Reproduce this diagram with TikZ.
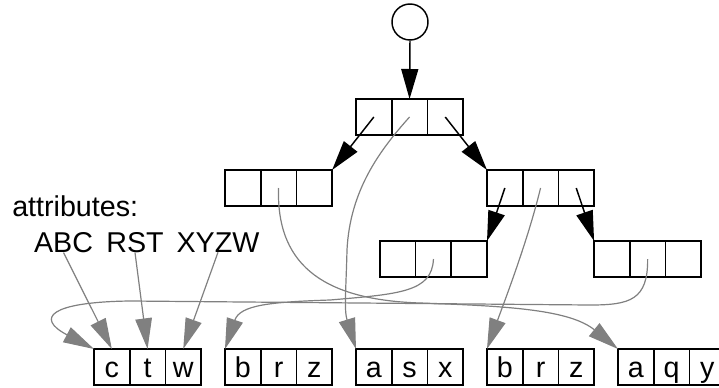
\documentclass[tikz,border=0pt]{standalone}
\usepackage{fontspec}
\setmainfont{Liberation Sans}
\usetikzlibrary{arrows.meta}
\definecolor{edgegray}{RGB}{128,128,128}
\newcommand{\lblfont}{\fontsize{21.5}{25}\selectfont}
% one record of three cells: name, left x, centre y, three labels
\newcommand{\trio}[6]{%
  \node[cell] (#1a) at ({#2+17.85},#3) {#4};
  \node[cell] (#1b) at ({#2+53.55},#3) {#5};
  \node[cell] (#1c) at ({#2+89.25},#3) {#6};
}
\tikzset{
  cell/.style={draw, line width=1.2pt, minimum width=26.8pt, minimum height=27pt,
    inner sep=0pt, outer sep=0pt, text height=15pt, text depth=0pt, font=\lblfont},
  treeedge/.style={line width=1.1pt, -{Triangle[length=22.5pt,width=12.75pt]}},
  refedge/.style={draw=edgegray, line width=0.9pt, -{Triangle[length=23pt,width=12.5pt]}},
  attr/.style={font=\lblfont, inner sep=0pt, anchor=base},
}
\begin{document}
\begin{tikzpicture}[x=0.75pt,y=-0.75pt]
\useasboundingbox (0,0) rectangle (719,387);

% tree nodes
\node[draw, circle, line width=1.1pt, minimum size=27pt, inner sep=0pt] (root) at (410,22) {};
\trio{R}{356}{117}{}{}{}
\trio{L}{225}{188}{}{}{}
\trio{T}{487}{188}{}{}{}
\trio{P}{379.9}{259}{}{}{}
\trio{Q}{594.1}{259}{}{}{}

% leaves
\trio{ka}{94}{367}{c}{t}{w}
\trio{kb}{225}{367}{b}{r}{z}
\trio{kc}{356}{367}{a}{s}{x}
\trio{kd}{487}{367}{b}{r}{z}
\trio{ke}{618}{367}{a}{q}{y}

% attribute labels
\node[attr, anchor=base west] (attrs) at (12,216) {attributes:};
\node[attr] (abc) at (63.5,252) {ABC};
\node[attr] (rst) at (135,252) {RST};
\node[attr] (xyzw) at (218,252) {XYZW};

% tree pointers
\draw[treeedge] (root.south) -- (Rb.north);
\draw[treeedge] (Ra.center) -- (Lc.north east);
\draw[treeedge] (Rc.center) -- (Ta.north west);
\draw[treeedge] (Ta.center) -- (Pc.north east);
\draw[treeedge] (Tc.center) -- (Qa.north west);

% leaf pointers
\draw[refedge] (Rb.center) .. controls (380,150) and (350,190) .. (347,250)
  .. controls (346,290) and (344,310) .. (kca.north west);
\draw[refedge] (Lb.center) .. controls (276,270) and (330,300) .. (420,303)
  .. controls (510,306) and (570,310) .. (kea.north west);
\draw[refedge] (Tb.center) .. controls (528,240) and (505,300) .. (kda.north west);
\draw[refedge] (Pb.center) .. controls (432,292) and (400,294) .. (330,300)
  .. controls (270,302) and (240,305) .. (kba.north west);
\draw[refedge] (Qb.center) .. controls (648,300) and (630,305) .. (590,305)
  -- (130,301) .. controls (50,302) and (35,318) .. (kaa.north west);

% attribute pointers
\draw[refedge] (abc.south) -- (kaa.north);
\draw[refedge] (rst.south) -- (kab.north);
\draw[refedge] (xyzw.south) -- (kac.north);
\end{tikzpicture}
\end{document}
